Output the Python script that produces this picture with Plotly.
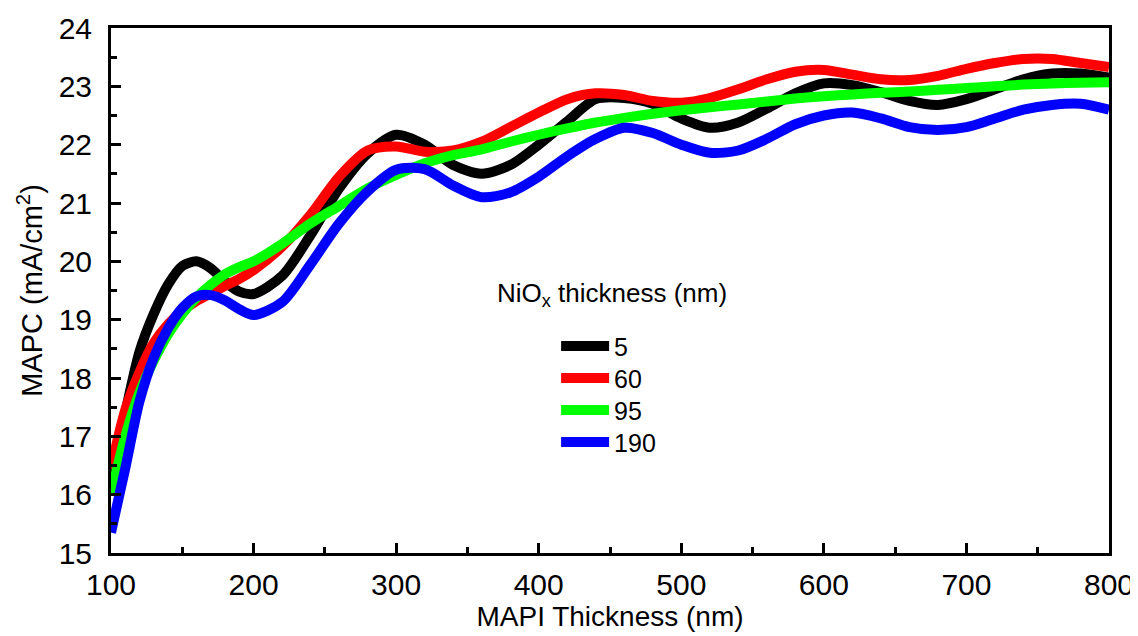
import plotly.graph_objects as go

# MAPI absorber thickness (nm)
thickness = [100, 110, 120, 130, 140, 150, 160, 170, 180, 190, 200,
             220, 240, 260, 280, 300, 320, 340, 360, 380, 400,
             420, 440, 460, 480, 500, 520, 540, 560, 580, 600,
             620, 640, 660, 680, 700, 720, 740, 760, 780, 800]

# MAPC (mA/cm2) for each NiOx thickness
mapc_5 = [16.3, 17.4, 18.45, 19.1, 19.6, 19.92, 20.0, 19.88, 19.65, 19.48, 19.44,
          19.75, 20.45, 21.25, 21.85, 22.17, 22.0, 21.65, 21.5, 21.65, 22.0,
          22.4, 22.78, 22.8, 22.7, 22.45, 22.29, 22.38, 22.62, 22.88, 23.05,
          23.02, 22.9, 22.75, 22.68, 22.78, 22.95, 23.12, 23.22, 23.22, 23.15]
mapc_60 = [16.45, 17.45, 18.1, 18.6, 18.92, 19.15, 19.32, 19.45, 19.58, 19.7, 19.85,
           20.25, 20.8, 21.45, 21.9, 21.97, 21.88, 21.9, 22.05, 22.3, 22.55,
           22.78, 22.88, 22.85, 22.75, 22.72, 22.8, 22.95, 23.12, 23.25, 23.28,
           23.2, 23.12, 23.11, 23.18, 23.3, 23.4, 23.47, 23.47, 23.4, 23.33]
mapc_95 = [16.0, 17.0, 17.75, 18.3, 18.75, 19.1, 19.38, 19.6, 19.78, 19.9, 20.0,
           20.3, 20.65, 20.95, 21.25, 21.48, 21.68, 21.82, 21.92, 22.05, 22.17,
           22.28, 22.38, 22.46, 22.53, 22.59, 22.64, 22.69, 22.74, 22.79, 22.83,
           22.86, 22.89, 22.91, 22.94, 22.97, 23.0, 23.03, 23.05, 23.06, 23.07]
mapc_190 = [15.35, 16.45, 17.6, 18.35, 18.85, 19.2, 19.4, 19.42, 19.33, 19.18, 19.08,
            19.3, 19.95, 20.65, 21.2, 21.57, 21.58, 21.3, 21.1, 21.18, 21.45,
            21.8, 22.1, 22.29, 22.2, 22.0, 21.86, 21.9, 22.1, 22.35, 22.5,
            22.55, 22.45, 22.3, 22.25, 22.3, 22.45, 22.6, 22.68, 22.7, 22.6]

series = [('5', mapc_5, '#000000'),
          ('60', mapc_60, '#ff0000'),
          ('95', mapc_95, '#00ff00'),
          ('190', mapc_190, '#0000ff')]

font_family = 'Liberation Sans, Arial, sans-serif'

fig = go.Figure()

# one small legend per entry so the rows can be spaced like the original
legend_names = ['legend', 'legend2', 'legend3', 'legend4']
legend_rows = [0.394, 0.333, 0.272, 0.211]

for (name, values, color), leg in zip(series, legend_names):
    fig.add_trace(go.Scatter(
        x=thickness,
        y=values,
        name=name,
        mode='lines',
        legend=leg,
        line=dict(color=color, width=10, shape='spline', smoothing=0.8)
    ))

axis_style = dict(
    showline=True,
    linecolor='black',
    linewidth=3,
    mirror=True,
    ticks='inside',
    ticklen=10,
    tickwidth=3,
    tickcolor='black',
    showgrid=False,
    zeroline=False,
    automargin=False,
    tickfont=dict(family=font_family, size=30, color='black'),
)

fig.update_xaxes(
    range=[100, 800],
    dtick=100,
    ticklabelstandoff=3,
    minor=dict(dtick=50, ticks='inside', ticklen=6, tickwidth=3, tickcolor='black'),
    title=dict(text='MAPI Thickness (nm)', standoff=2,
               font=dict(family=font_family, size=28, color='black')),
    **axis_style
)
fig.update_yaxes(
    range=[15, 24],
    dtick=1,
    ticklabelstandoff=10,
    minor=dict(dtick=0.5, ticks='inside', ticklen=6, tickwidth=3, tickcolor='black'),
    title=dict(text='MAPC (mA/cm<sup>2</sup>)', standoff=8,
               font=dict(family=font_family, size=29, color='black')),
    **axis_style
)

# Legend title as a separate label so it can sit left of the entries
fig.add_annotation(
    text='NiO<sub>x</sub> thickness (nm)',
    xref='paper', yref='paper',
    x=0.385, y=0.493,
    xanchor='left', yanchor='middle',
    showarrow=False,
    font=dict(family=font_family, size=26, color='black')
)

legend_style = dict(
    x=0.446,
    xanchor='left', yanchor='middle',
    bgcolor='rgba(0,0,0,0)',
    itemwidth=48,
    font=dict(family=font_family, size=25, color='black')
)

# page body has an 8px margin, so the figure is made 8px smaller each way
fig.update_layout(
    width=1130,
    height=628,
    margin=dict(l=103, r=29, t=20, b=83),
    plot_bgcolor='white',
    paper_bgcolor='white',
    showlegend=True,
    legend=dict(y=legend_rows[0], **legend_style),
    legend2=dict(y=legend_rows[1], **legend_style),
    legend3=dict(y=legend_rows[2], **legend_style),
    legend4=dict(y=legend_rows[3], **legend_style),
)

fig.write_html('out.html')
